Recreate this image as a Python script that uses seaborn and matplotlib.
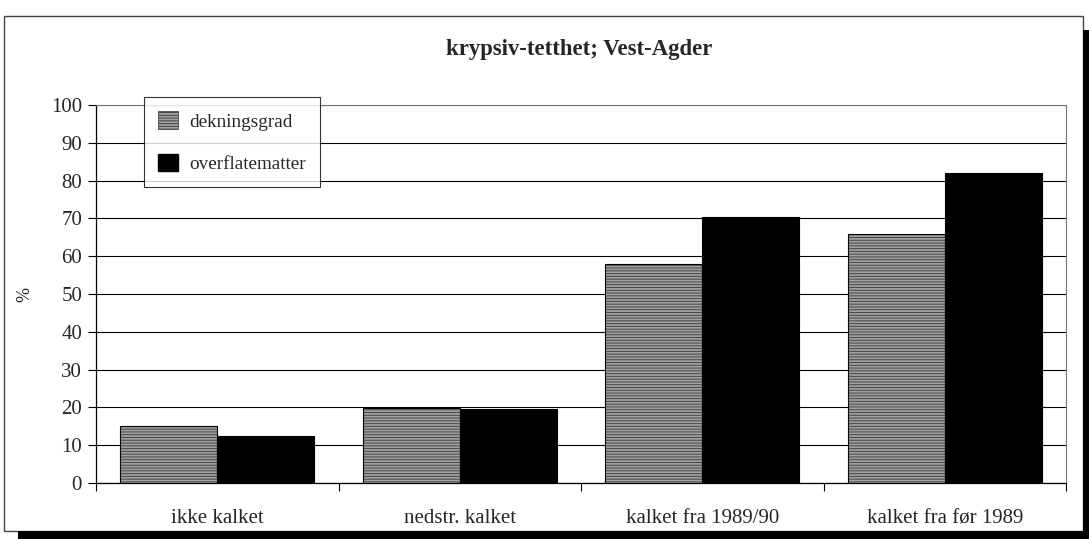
import pandas as pd
import matplotlib.pyplot as plt
import seaborn as sns
from matplotlib.patches import Rectangle, Patch

# Data
kategorier = ['ikke kalket', 'nedstr. kalket', 'kalket fra 1989/90', 'kalket fra før 1989']
dekningsgrad = [15.1, 19.8, 57.9, 65.8]
overflatematter = [12.5, 19.6, 70.5, 82.1]
serier = ['dekningsgrad', 'overflatematter']

df = pd.DataFrame({
    'kategori': kategorier * 2,
    'serie': [serier[0]] * 4 + [serier[1]] * 4,
    'verdi': dekningsgrad + overflatematter,
})

sns.set_style('white')
plt.rcParams['font.family'] = ['Liberation Serif', 'DejaVu Serif']
plt.rcParams['hatch.linewidth'] = 0.7

W, H = 1089, 539
fig = plt.figure(figsize=(W / 100, H / 100), dpi=100)
ax = fig.add_axes([96 / W, 1 - 483 / H, (1066 - 96) / W, (483 - 105) / H])

sns.barplot(data=df, x='kategori', y='verdi', hue='serie', order=kategorier,
            hue_order=serier, palette=['#a0a0a0', 'black'], width=0.8,
            saturation=1, legend=False, ax=ax, zorder=3)

# gray bars get horizontal line hatching
n = len(kategorier)
for i, p in enumerate(ax.patches[:2 * n]):
    if i < n:
        p.set_hatch('------')
        p.set_edgecolor('#454545')
        p.set_linewidth(0)
        x0, y0 = p.get_xy()
        ax.add_patch(Rectangle((x0, y0), p.get_width(), p.get_height(), fill=False,
                               edgecolor='black', linewidth=0.8, zorder=4))
    else:
        p.set_edgecolor('black')
        p.set_linewidth(0.8)

ax.set_ylim(0, 100)
ax.set_xlim(-0.5, n - 0.5)
ax.set_yticks(range(0, 101, 10))
ax.yaxis.grid(True, color='black', linewidth=0.8, zorder=0)
ax.set_axisbelow(True)

ax.set_xlabel('')
ax.set_ylabel('%', fontsize=13, rotation=90)
ax.yaxis.set_label_coords(-(96 - 33) / (1066 - 96), 0.5)

ax.tick_params(axis='y', direction='out', length=6, width=0.8, color='black',
               labelsize=15, left=True, pad=4)
ax.tick_params(axis='x', which='major', length=0, labelsize=15, pad=19)
ax.set_xticks([i - 0.5 for i in range(n + 1)], minor=True)
ax.tick_params(axis='x', which='minor', direction='out', length=6, width=0.8,
               color='black', bottom=True)

for s in ['left', 'bottom']:
    ax.spines[s].set_color('black')
    ax.spines[s].set_linewidth(0.9)
for s in ['top', 'right']:
    ax.spines[s].set_color('#777777')
    ax.spines[s].set_linewidth(0.8)

handles = [Patch(facecolor='#a0a0a0', edgecolor='#454545', hatch='------', linewidth=0.6),
           Patch(facecolor='black', edgecolor='black')]
leg = ax.legend(handles, serier, loc='upper left',
                bbox_to_anchor=(144 / W, 1 - 97 / H), bbox_transform=fig.transFigure,
                borderaxespad=0, fontsize=13.8, frameon=True, fancybox=False,
                labelspacing=1.2, handlelength=1.0, handleheight=1.0,
                handletextpad=0.6, borderpad=0.75)
leg.get_frame().set_edgecolor('black')
leg.get_frame().set_linewidth(0.8)
leg.set_zorder(5)

fig.text(0.532, 1 - 50 / H, 'krypsiv-tetthet; Vest-Agder', ha='center', va='center',
         fontsize=16.4, fontweight='bold')

# outer frame with shadow
fig.patches.append(Rectangle((4 / W, 1 - 531 / H), (1083 - 4) / W, (531 - 16) / H,
                             transform=fig.transFigure, fill=False,
                             edgecolor='#444444', linewidth=1))
fig.patches.append(Rectangle((1083 / W, 0), 6 / W, 1 - 30 / H,
                             transform=fig.transFigure, facecolor='black', edgecolor='none'))
fig.patches.append(Rectangle((18 / W, 0), (W - 18) / W, 8 / H,
                             transform=fig.transFigure, facecolor='black', edgecolor='none'))

fig.savefig('out.png', dpi=100)
